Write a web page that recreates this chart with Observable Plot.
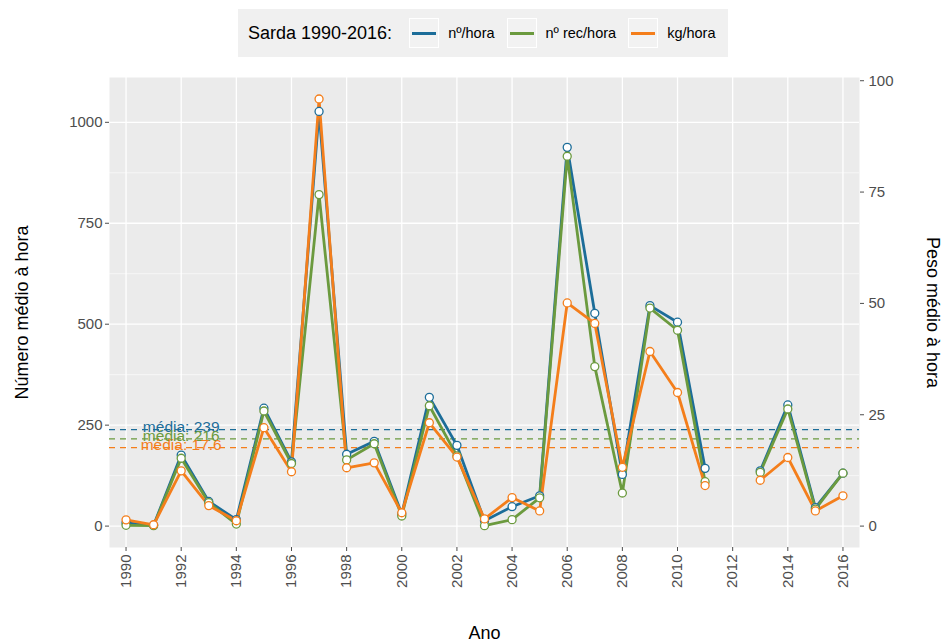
<!DOCTYPE html>
<html>
<head>
<meta charset="utf-8">
<script src="https://cdn.jsdelivr.net/npm/d3@7"></script>
<script src="https://cdn.jsdelivr.net/npm/@observablehq/plot@0.6"></script>
<style>
  body { margin: 0; background: #fff; font-family: "Liberation Sans", Arial, sans-serif; }
  #legend { position: relative; width: 943px; height: 66px; }
  #legend .box { position: absolute; left: 238px; top: 9px; height: 48px; background: #f0f0f0;
                 display: flex; align-items: center; padding: 0 12px 0 10px; box-sizing: border-box; }
  #legend .title { font-size: 18px; color: #000; margin-right: 17px; white-space: nowrap; }
  #legend .key { width: 30px; height: 30px; box-sizing: border-box; border: 1px solid #fff; background: #f2f2f2;
                 display: flex; align-items: center; justify-content: center; margin-right: 9px; }
  #legend .key span { display: block; width: 24px; height: 3px; }
  #legend .lab { font-size: 14.5px; color: #000; margin-right: 12px; white-space: nowrap; }
  #legend .lab:last-child { margin-right: 0; }
</style>
</head>
<body>
<div id="legend"><div class="box"></div></div>
<div id="chart"></div>
<script>
// Sarda catch rates, 1990-2016 (no survey in 2012)
const years = [1990, 1991, 1992, 1993, 1994, 1995, 1996, 1997, 1998, 1999, 2000, 2001, 2002, 2003,
               2004, 2005, 2006, 2007, 2008, 2009, 2010, 2011, 2012, 2013, 2014, 2015, 2016];
const nHora    = [8, 2, 176, 61, 16, 292, 159, 1027, 178, 210, 30, 319, 200, 13,
                  48, 75, 938, 527, 128, 546, 505, 143, null, 137, 300, 46, 131];
const nRecHora = [2, 1, 168, 58, 5, 285, 155, 821, 164, 204, 25, 298, 174, 1,
                  16, 70, 916, 395, 82, 540, 485, 110, null, 133, 290, 42, 131];
const kgHora   = [1.4, 0.3, 12.4, 4.6, 1.2, 22.1, 12.2, 95.9, 13.1, 14.2, 3.0, 23.2, 15.5, 1.6,
                  6.4, 3.4, 50.1, 45.5, 13.2, 39.2, 30.0, 9.1, null, 10.3, 15.4, 3.4, 6.8];

// Series names, colours and overall means
const seriesNames  = ["nº/hora", "nº rec/hora", "kg/hora"];
const seriesColors = ["#1c6d99", "#6b9a3e", "#f47e1b"];
const means        = [239, 216, 17.6];
const meanLabels   = ["média: 239", "média: 216", "média: 17.6"];

// Axis ticks
const xTicks      = [1990, 1992, 1994, 1996, 1998, 2000, 2002, 2004, 2006, 2008, 2010, 2012, 2014, 2016];
const leftTicks   = [0, 250, 500, 750, 1000];
const leftMinor   = [125, 375, 625, 875];
const rightTicks  = [0, 25, 50, 75, 100];

// kg/hora is drawn on the count axis, scaled by this factor (secondary axis)
const K = 11.03;

// Legend
const box = document.querySelector("#legend .box");
box.innerHTML = `<div class="title">Sarda 1990-2016:</div>` +
  seriesNames.map((n, i) =>
    `<div class="key"><span style="background:${seriesColors[i]}"></span></div><div class="lab">${n}</div>`
  ).join("");

const rows = (vals, f = 1) => years.map((yr, i) => ({yr, v: vals[i] == null ? NaN : vals[i] * f}));
const blue = rows(nHora), green = rows(nRecHora), orange = rows(kgHora, K);
const meanRows = means.map((m, i) => ({
  y: i === 2 ? m * K : m, label: meanLabels[i], color: seriesColors[i]
}));

const tickColor = "#4d4d4d";

const chart = Plot.plot({
  width: 943,
  height: 576,
  marginTop: 11,
  marginBottom: 95,
  marginLeft: 109,
  marginRight: 84,
  style: {fontFamily: "'Liberation Sans', Arial, sans-serif", background: "white"},
  x: {domain: [1989.4, 2016.6]},
  y: {domain: [-53, 1111]},
  marks: [
    Plot.frame({fill: "#ebebeb", stroke: null}),
    Plot.ruleY(leftMinor, {stroke: "white", strokeWidth: 0.6}),
    Plot.ruleY(leftTicks, {stroke: "white", strokeWidth: 1.3}),
    Plot.ruleX(xTicks, {stroke: "white", strokeWidth: 1.3}),

    // mean lines and their labels
    Plot.ruleY(meanRows, {y: "y", stroke: "color", strokeWidth: 1.3, strokeDasharray: "6,5"}),
    Plot.text(meanRows, {x: 1992, y: "y", text: "label", fill: "color", fontSize: 15.5,
                         lineAnchor: "bottom", dy: 2}),

    // series lines
    Plot.line(blue,   {x: "yr", y: "v", stroke: seriesColors[0], strokeWidth: 2.8}),
    Plot.line(green,  {x: "yr", y: "v", stroke: seriesColors[1], strokeWidth: 2.8}),
    Plot.line(orange, {x: "yr", y: "v", stroke: seriesColors[2], strokeWidth: 2.8}),
    // series points
    Plot.dot(blue,   {x: "yr", y: "v", r: 4, fill: "white", stroke: seriesColors[0], strokeWidth: 1.3}),
    Plot.dot(green,  {x: "yr", y: "v", r: 4, fill: "white", stroke: seriesColors[1], strokeWidth: 1.3}),
    Plot.dot(orange, {x: "yr", y: "v", r: 4, fill: "white", stroke: seriesColors[2], strokeWidth: 1.3}),

    // axes
    Plot.axisX(xTicks, {tickSize: 4, tickPadding: 3, tickRotate: -90, tickFormat: "d",
                        fontSize: 15, color: tickColor, label: null}),
    Plot.axisY(leftTicks, {anchor: "left", tickSize: 4, tickPadding: 3, tickFormat: "d",
                           fontSize: 15, color: tickColor, label: null}),
    Plot.axisY(rightTicks.map(v => v * K), {anchor: "right", tickSize: 4, tickPadding: 5,
                           tickFormat: d => String(Math.round(d / K)),
                           fontSize: 15, color: tickColor, label: null}),

    // axis titles
    Plot.text(["Ano"], {text: d => d, frameAnchor: "bottom", textAnchor: "middle", dy: 91,
                        fontSize: 18, fill: "#000"}),
    Plot.text(["Número médio à hora"], {text: d => d, frameAnchor: "left", textAnchor: "middle",
                                         rotate: -90, dx: -87, fontSize: 18, fill: "#000"}),
    Plot.text(["Peso médio à hora"], {text: d => d, frameAnchor: "right", textAnchor: "middle",
                                       rotate: 90, dx: 73, fontSize: 18, fill: "#000"})
  ]
});
document.getElementById("chart").appendChild(chart);
</script>
</body>
</html>
